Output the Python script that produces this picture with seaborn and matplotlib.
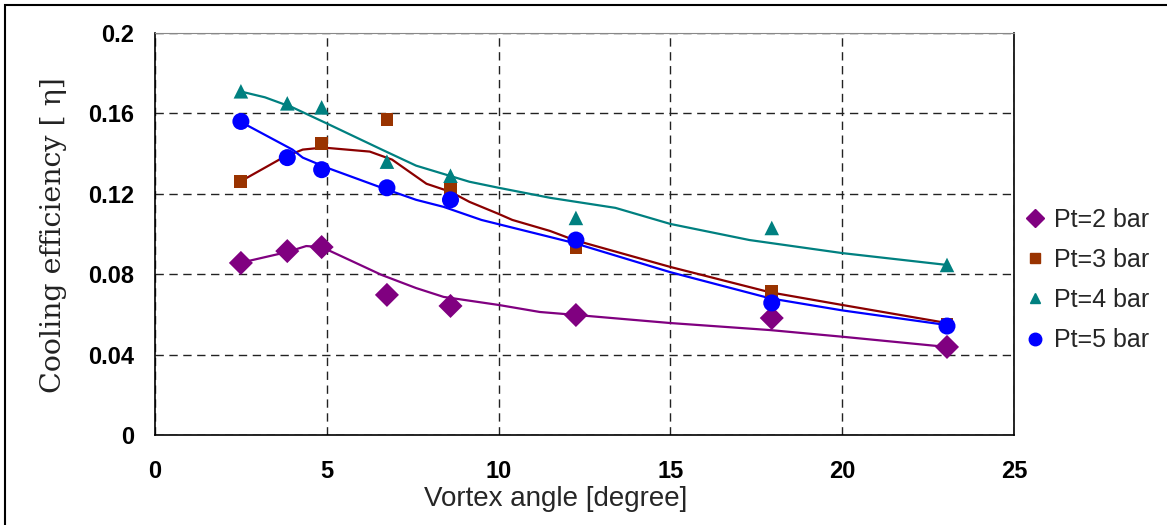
import numpy as np
import pandas as pd
import seaborn as sns
import matplotlib.pyplot as plt
from matplotlib.lines import Line2D
from matplotlib.patches import Rectangle

# === measured points ===
angles = [2.5, 3.85, 4.85, 6.75, 8.6, 12.25, 17.95, 23.05]
pt2_eff = [0.0856, 0.0915, 0.0935, 0.0697, 0.0642, 0.0597, 0.0582, 0.0438]
pt3_eff = [0.126, 0.145, 0.157, 0.122, 0.093, 0.0716, 0.055]
pt3_angles = [2.5, 4.85, 6.75, 8.6, 12.25, 17.95, 23.05]
pt4_eff = [0.171, 0.165, 0.163, 0.136, 0.129, 0.108, 0.103, 0.0846]
pt5_eff = [0.156, 0.138, 0.132, 0.123, 0.117, 0.097, 0.0657, 0.0542]

# === trend curves ===
curve2_x = [2.47, 3.84, 4.4, 4.85, 5.67, 6.6, 7.6, 8.4, 10.0, 11.2, 12.27, 15.0, 17.9, 20.0, 23.05]
curve2_y = [0.0856, 0.091, 0.094, 0.0935, 0.087, 0.0796, 0.0731, 0.0687, 0.0647, 0.0612, 0.0597,
            0.0557, 0.0522, 0.0489, 0.0438]
curve3_x = [2.47, 3.2, 3.72, 4.3, 4.9, 6.25, 6.9, 7.9, 8.6, 9.15, 10.0, 10.4, 11.5, 12.2, 15.0,
            17.9, 20.0, 23.05]
curve3_y = [0.126, 0.133, 0.138, 0.142, 0.143, 0.141, 0.137, 0.125, 0.121, 0.116, 0.110, 0.107,
            0.1015, 0.097, 0.0836, 0.071, 0.0647, 0.0557]
curve4_x = [2.47, 3.2, 4.0, 5.0, 6.6, 7.6, 9.15, 10.0, 11.5, 13.4, 15.0, 17.3, 20.0, 23.05]
curve4_y = [0.171, 0.168, 0.163, 0.155, 0.142, 0.134, 0.126, 0.123, 0.118, 0.113, 0.105, 0.097,
            0.0905, 0.0846]
curve5_x = [2.47, 4.0, 4.3, 5.0, 6.6, 7.6, 8.4, 9.5, 11.5, 12.2, 15.0, 17.9, 20.0, 23.05]
curve5_y = [0.156, 0.142, 0.138, 0.133, 0.123, 0.117, 0.1135, 0.107, 0.0985, 0.0955, 0.081, 0.068,
            0.062, 0.0547]

labels = ["Pt=2 bar", "Pt=3 bar", "Pt=4 bar", "Pt=5 bar"]
marker_colors = ["#800080", "#993300", "#008080", "#0000FF"]
line_colors = ["#800080", "#8B0000", "#008080", "#0000FF"]
markers = ["D", "s", "^", "o"]
marker_sizes = [150, 85, 110, 150]

points = [(angles, pt2_eff), (pt3_angles, pt3_eff), (angles, pt4_eff), (angles, pt5_eff)]
curves = [(curve2_x, curve2_y), (curve3_x, curve3_y), (curve4_x, curve4_y), (curve5_x, curve5_y)]

sns.set_style("white")
plt.rcParams["font.family"] = ["Liberation Sans", "DejaVu Sans"]

fig = plt.figure(figsize=(11.67, 5.25), dpi=100)
ax = fig.add_axes([155 / 1167, 1 - 435 / 525, 859 / 1167, 402 / 525])

# curves first, then markers on top
for (cx, cy), col in zip(curves, line_colors):
    sns.lineplot(x=cx, y=cy, ax=ax, color=col, linewidth=1.6, sort=False, estimator=None)

for (px, py), col, mk, ms in zip(points, marker_colors, markers, marker_sizes):
    sns.scatterplot(x=px, y=py, ax=ax, color=col, marker=mk, s=ms, edgecolor="none", zorder=5)

ax.set_xlim(0, 25)
ax.set_ylim(0, 0.2)
ax.set_xticks([0, 5, 10, 15, 20, 25])
ax.set_xticklabels(["0", "5", "10", "15", "20", "25"])
ax.set_yticks([0, 0.04, 0.08, 0.12, 0.16, 0.2])
ax.set_yticklabels(["0", "0.04", "0.08", "0.12", "0.16", "0.2"])
ax.grid(True, color="#222222", linestyle=(0, (6, 4)), linewidth=1.0)
ax.tick_params(axis="both", length=4, width=1, direction="out", labelsize=17, colors="black")
ax.tick_params(axis="x", pad=14)
ax.tick_params(axis="y", pad=11)
for lab in ax.get_xticklabels() + ax.get_yticklabels():
    lab.set_fontweight("bold")

for side in ["left", "bottom", "right"]:
    ax.spines[side].set_color("black")
    ax.spines[side].set_linewidth(1.2)
ax.spines["top"].set_color("#888888")

ax.set_xlabel("Vortex angle [degree]", fontsize=20, va="top")
ax.xaxis.set_label_coords((556 - 155) / 859, -0.128)
ax.set_ylabel("Cooling efficiency [ η]", fontsize=20.5, family=["DejaVu Serif"], color="#222222",
              fontweight="light")
ax.yaxis.set_label_coords(-0.1025, 0.4975)

handles = [Line2D([], [], linestyle="none", marker=mk, color=col, markersize=sz)
           for mk, col, sz in zip(markers, marker_colors, [9, 6.5, 7.5, 9])]
ax.legend(handles, labels, loc="center left", bbox_to_anchor=((1022 - 155) / 859, 0.3856),
          frameon=False, fontsize=18, handletextpad=0.3, labelspacing=0.65, handlelength=1.0,
          borderaxespad=0, borderpad=0)

fig.patches.append(Rectangle((5 / 1167, -0.1), 1.2, 1.1 - 5 / 525, transform=fig.transFigure,
                             fill=False, edgecolor="black", linewidth=1.5))

fig.savefig("out.png", dpi=100)
